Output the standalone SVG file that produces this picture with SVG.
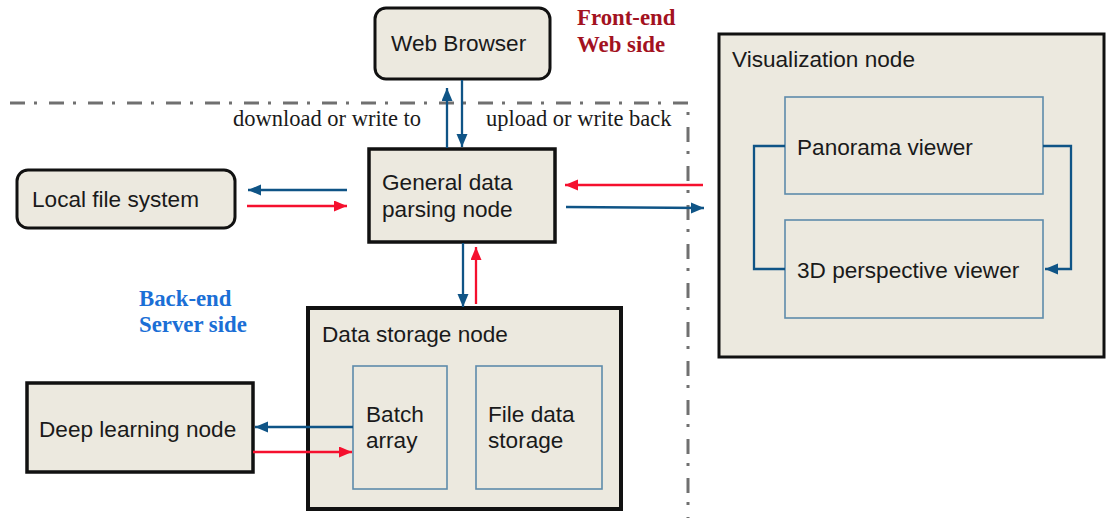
<svg xmlns="http://www.w3.org/2000/svg" width="1107" height="518" viewBox="0 0 1107 518">
<style>
.box{fill:#ece9df;stroke:#111;stroke-width:3.5}
.inner{fill:#ece9df;stroke:#5e8bab;stroke-width:1.6}
.lbl{font-family:"Liberation Sans",Arial,sans-serif;font-size:22.6px;fill:#1a1a1a}
.ser{font-family:"Liberation Serif","Times New Roman",serif;font-size:22.5px;fill:#1a1a1a}
.side{font-family:"Liberation Serif","Times New Roman",serif;font-size:22.8px;font-weight:bold}
.blue{fill:none;stroke:#0f5486;stroke-width:2.3}
.red{fill:none;stroke:#f5102e;stroke-width:2.3}
.dash{fill:none;stroke:#707070;stroke-width:3;stroke-dasharray:15 9 3 12}
</style>
<defs>
<marker id="ab" markerUnits="userSpaceOnUse" markerWidth="14" markerHeight="12" refX="13" refY="5.5" orient="auto"><path d="M0,0 L13,5.5 L0,11 z" fill="#0f5486"/></marker>
<marker id="ar" markerUnits="userSpaceOnUse" markerWidth="14" markerHeight="12" refX="13" refY="5.5" orient="auto"><path d="M0,0 L13,5.5 L0,11 z" fill="#f5102e"/></marker>
</defs>
<rect width="1107" height="518" fill="#fff"/>
<path class="dash" d="M10,103 H688 V518"/>
<text class="side" x="577" y="25" fill="#a3121f">Front-end</text>
<text class="side" x="577" y="52" fill="#a3121f">Web side</text>
<text class="side" x="139" y="306" fill="#1b6fd6">Back-end</text>
<text class="side" x="139" y="332" fill="#1b6fd6">Server side</text>
<text class="ser" x="233" y="126">download or write to</text>
<text class="ser" x="486" y="126">upload or write back</text>
<g id="web-browser"><rect class="box" x="375" y="8" width="175" height="71" rx="11" style="stroke-width:3"/><text class="lbl" x="391" y="51">Web Browser</text></g>
<g id="local-file-system"><rect class="box" x="17" y="170" width="218" height="58" rx="11" style="stroke-width:3"/><text class="lbl" x="32" y="207">Local file system</text></g>
<g id="general-data"><rect class="box" x="369" y="149" width="186" height="93"/><text class="lbl" x="382" y="190">General data</text><text class="lbl" x="382" y="217">parsing node</text></g>
<g id="data-storage"><rect class="box" x="308" y="308" width="313" height="201" style="stroke-width:4"/><text class="lbl" x="322" y="342">Data storage node</text></g>
<g id="batch-array"><rect class="inner" x="353" y="366" width="94" height="123"/><text class="lbl" x="366" y="422">Batch</text><text class="lbl" x="366" y="448">array</text></g>
<g id="file-data-storage"><rect class="inner" x="476" y="366" width="126" height="123"/><text class="lbl" x="488" y="422">File data</text><text class="lbl" x="488" y="448">storage</text></g>
<g id="deep-learning"><rect class="box" x="27" y="383" width="226" height="89"/><text class="lbl" x="39" y="437">Deep learning node</text></g>
<g id="visualization"><rect class="box" x="719" y="34" width="385" height="323" style="stroke-width:3"/><text class="lbl" x="732" y="67">Visualization node</text></g>
<g id="panorama"><rect class="inner" x="785" y="97" width="258" height="97"/><text class="lbl" x="797" y="155">Panorama viewer</text></g>
<g id="perspective"><rect class="inner" x="785" y="220" width="258" height="98"/><text class="lbl" x="797" y="278">3D perspective viewer</text></g>
<g id="connectors">
<path class="blue" d="M447,148 V88" marker-end="url(#ab)"/>
<path class="blue" d="M462,80 V147" marker-end="url(#ab)"/>
<path class="blue" d="M347,190 H248" marker-end="url(#ab)"/>
<path class="red" d="M247,206 H347" marker-end="url(#ar)"/>
<path class="red" d="M703,185 H565" marker-end="url(#ar)"/>
<path class="blue" d="M566,207 L704,208" marker-end="url(#ab)"/>
<path class="blue" d="M463,243 V307" marker-end="url(#ab)"/>
<path class="red" d="M476,304 V247" marker-end="url(#ar)"/>
<path class="blue" d="M353,427 H255" marker-end="url(#ab)"/>
<path class="red" d="M253,452 H352" marker-end="url(#ar)"/>
<path class="blue" d="M785,146 H754 V269 H785"/>
<path class="blue" d="M1043,146 H1071 V269 H1045" marker-end="url(#ab)"/>
</g>
</svg>
